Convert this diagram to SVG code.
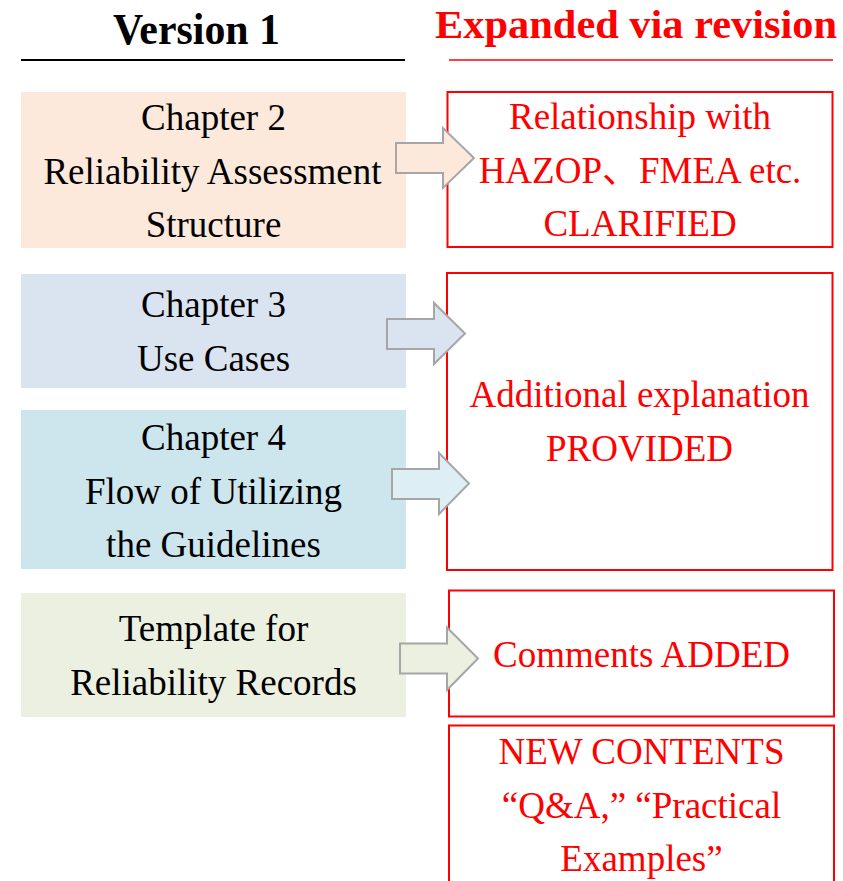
<svg xmlns="http://www.w3.org/2000/svg" width="843" height="881" viewBox="0 0 843 881">
<style>
  text { font-family: 'Liberation Serif', 'Times New Roman', 'DejaVu Serif', serif; text-anchor: middle; }
  .cjk { font-family: 'Noto Sans CJK JP', 'Noto Sans CJK SC', sans-serif; }
  .lt { font-size: 37px; fill: #000000; }
  .rt { font-size: 37px; fill: #FF0000; }
  .hd { font-weight: bold; }
  .rbox { fill: none; stroke: #FF0000; stroke-width: 2; }
  .arrow { stroke: #A6A6A6; stroke-width: 2; stroke-linejoin: miter; }
</style>
<rect width="843" height="881" fill="#FFFFFF"/>

<g id="header-left">
  <text class="hd" x="196.5" y="43.5" font-size="44" textLength="167" lengthAdjust="spacingAndGlyphs" fill="#000000">Version 1</text>
  <line x1="21" y1="60" x2="405" y2="60" stroke="#000000" stroke-width="2"/>
</g>
<g id="header-right">
  <text class="hd" x="636" y="37.5" font-size="40" textLength="402" lengthAdjust="spacingAndGlyphs" fill="#FF0000">Expanded via revision</text>
  <line x1="449" y1="60" x2="833" y2="60" stroke="#FF0000" stroke-width="1.6"/>
</g>

<g id="ch2">
  <rect x="21" y="92" width="385" height="156" fill="#FCE9DB"/>
  <text class="lt" x="213.5" y="129.5">Chapter 2</text>
  <text class="lt" x="212.5" y="183.5">Reliability Assessment</text>
  <text class="lt" x="213.5" y="236.5">Structure</text>
</g>
<g id="ch3">
  <rect x="21" y="274" width="385" height="114" fill="#DAE3F0"/>
  <text class="lt" x="213.5" y="316.5">Chapter 3</text>
  <text class="lt" x="213.5" y="370.5">Use Cases</text>
</g>
<g id="ch4">
  <rect x="21" y="410" width="385" height="159" fill="#CDE6ED"/>
  <text class="lt" x="213.5" y="450">Chapter 4</text>
  <text class="lt" x="213.5" y="503.5">Flow of Utilizing</text>
  <text class="lt" x="213.5" y="556.5">the Guidelines</text>
</g>
<g id="template">
  <rect x="21" y="593" width="385" height="124" fill="#EBF0E0"/>
  <text class="lt" x="213.5" y="641">Template for</text>
  <text class="lt" x="213.5" y="695">Reliability Records</text>
</g>

<g id="rev-ch2">
  <rect class="rbox" x="447.5" y="92" width="385" height="155"/>
  <text class="rt" x="640" y="128.5">Relationship with</text>
  <text class="rt" x="640" y="182.5">HAZOP<tspan class="cjk">、</tspan>FMEA etc.</text>
  <text class="rt" x="640" y="235.5">CLARIFIED</text>
</g>
<g id="rev-ch3-4">
  <rect class="rbox" x="447" y="273" width="385.5" height="297"/>
  <text class="rt" x="639.5" y="407">Additional explanation</text>
  <text class="rt" x="639.5" y="461">PROVIDED</text>
</g>
<g id="rev-template">
  <rect class="rbox" x="449" y="590.5" width="385" height="126"/>
  <text class="rt" x="641.5" y="666.5">Comments ADDED</text>
</g>
<g id="new-contents">
  <rect class="rbox" x="449" y="725.5" width="385" height="180"/>
  <text class="rt" x="641.5" y="764">NEW CONTENTS</text>
  <text class="rt" x="641.5" y="817.5">“Q&amp;A,” “Practical</text>
  <text class="rt" x="641.5" y="871">Examples”</text>
</g>

<g id="connectors">
  <polygon class="arrow" fill="#FCE9DB" points="396,143 443,143 443,128 474,158 443,188 443,173 396,173"/>
  <polygon class="arrow" fill="#DAE3F0" points="387,319 434,319 434,303 465,333.5 434,364 434,349 387,349"/>
  <polygon class="arrow" fill="#DDEFF4" points="392,469 439,469 439,453 469,483.5 439,514 439,499 392,499"/>
  <polygon class="arrow" fill="#EBF0E0" points="400,643.5 447,643.5 447,627.5 478,658.5 447,690 447,673.5 400,673.5"/>
</g>
</svg>
